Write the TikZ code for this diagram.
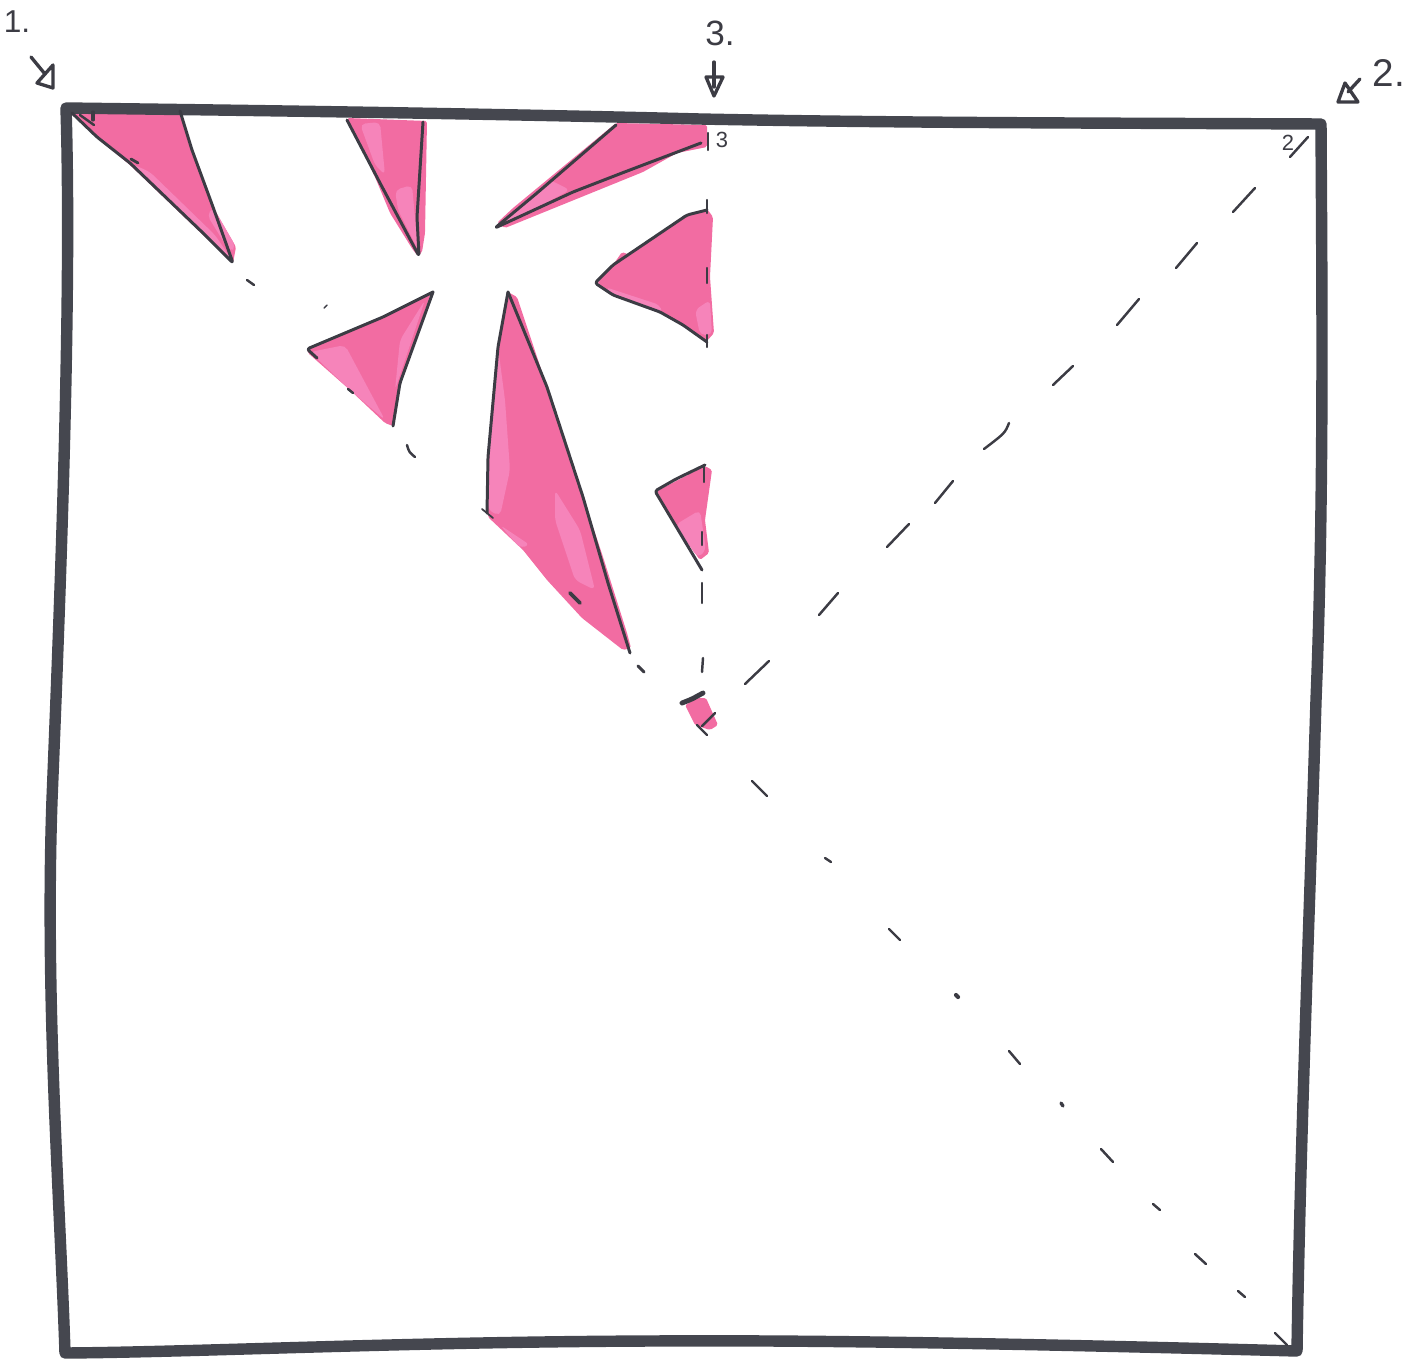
\documentclass[tikz,border=0pt]{standalone}
\usepackage{fontspec}
\setmainfont{Liberation Sans}
\definecolor{ink}{HTML}{45474F}
\definecolor{pen}{HTML}{3C3C44}
\definecolor{marker}{HTML}{F26CA2}
\definecolor{markerlight}{HTML}{F684BA}
\tikzset{
  frame/.style={draw=ink,line width=6.5pt,line join=round,line cap=round},
  fillshape/.style={fill=marker,draw=none,rounded corners=1pt},
  lightshape/.style={fill=markerlight,draw=none,rounded corners=3pt},
  outline/.style={draw=pen,line width=1.7pt,line cap=round,line join=round,rounded corners=1.5pt},
  dashmark/.style={draw=pen,line width=1.4pt,line cap=round},
  bigtxt/.style={text=pen,inner sep=0pt},
  smalltxt/.style={text=pen,font=\fontsize{12.5pt}{15pt}\selectfont,inner sep=0pt},
  tip/.style={draw=pen,line width=1.9pt,line join=round,line cap=round}
}
\begin{document}
\begin{tikzpicture}[x=0.02cm,y=-0.02cm]
\useasboundingbox (0,0) rectangle (1423,1359);
% fills
\fill[fillshape] (72,111) -- (181,110) -- (192,150) -- (213,207) -- (236,247) -- (233,263) -- (203,235) -- (130,165) -- (97,138) -- cycle;
\fill[lightshape] (130,163) -- (150,172) -- (215,235) -- (232,260) -- (203,233) -- cycle;
\fill[lightshape] (213,207) -- (236,247) -- (230,252) -- (207,215) -- cycle;
\fill[fillshape] (347,118) -- (427,121) -- (425,233) -- (422,252) -- (418,256) -- (413,250) -- (390,213) -- (375,177) -- cycle;
\fill[lightshape] (360,124) -- (380,122) -- (385,175) -- (375,165) -- cycle;
\fill[lightshape] (395,190) -- (412,185) -- (418,250) -- (398,210) -- cycle;
\fill[fillshape] (616,123) -- (707,125) -- (707,147) -- (677,153) -- (643,172) -- (505,228) -- (497,223) -- (513,208) -- cycle;
\fill[lightshape] (497,225) -- (550,180) -- (570,190) -- (505,225) -- cycle;
\fill[fillshape] (707,209) -- (713,217) -- (710,277) -- (714,333) -- (706,342) -- (683,325) -- (660,312) -- (613,295) -- (597,283) -- (613,265) -- (622,252) -- (630,255) -- (687,215) -- cycle;
\fill[lightshape] (605,287) -- (660,305) -- (662,313) -- (613,296) -- cycle;
\fill[lightshape] (695,310) -- (710,300) -- (712,335) -- (700,335) -- cycle;
\fill[fillshape] (431,293) -- (400,383) -- (393,426) -- (385,423) -- (350,390) -- (308,353) -- (307,348) -- (383,317) -- cycle;
\fill[lightshape] (310,352) -- (345,345) -- (385,420) -- (350,390) -- cycle;
\fill[lightshape] (400,340) -- (425,300) -- (395,390) -- cycle;
\fill[fillshape] (508,292) -- (517,297) -- (547,387) -- (583,497) -- (603,557) -- (627,633) -- (631,648) -- (623,650) -- (582,618) -- (547,580) -- (523,550) -- (488,517) -- (487,457) -- (498,347) -- cycle;
\fill[lightshape] (498,347) -- (505,400) -- (510,470) -- (500,516) -- (488,510) -- (490,440) -- cycle;
\fill[lightshape] (555,490) -- (580,530) -- (595,590) -- (575,580) -- (555,520) -- cycle;
\fill[lightshape] (500,525) -- (530,545) -- (520,548) -- cycle;
\fill[fillshape] (705,466) -- (712,470) -- (705,520) -- (709,553) -- (700,560) -- (677,528) -- (657,491) -- cycle;
\fill[lightshape] (675,525) -- (700,510) -- (706,550) -- (698,558) -- cycle;
\fill[fillshape] (685,705) -- (698,698) -- (706,698) -- (718,725) -- (710,730) -- (695,725) -- cycle;
% frame
\draw[frame] (66,108) .. controls (300,111) and (500,114) .. (700,119)
  .. controls (900,123) and (1100,123) .. (1321,124)
  .. controls (1322,300) and (1324,500) .. (1316,700)
  .. controls (1310,900) and (1300,1150) .. (1297,1351)
  .. controls (1000,1343) and (800,1340) .. (650,1341)
  .. controls (400,1342) and (200,1352) .. (65,1353)
  .. controls (60,1200) and (45,1000) .. (52,800)
  .. controls (60,600) and (72,300) .. (66,108) -- cycle;
% triangle outlines
\draw[outline] (72,113) -- (97,137) -- (130,163) -- (203,233) -- (233,263) -- (213,207) -- (192,150) -- (180,111);
\draw[outline] (347,120) -- (380,183) -- (419,256) -- (417,217) -- (423,122);
\draw[outline] (616,125) -- (537,193) -- (495,228) -- (573,192) -- (622,173) -- (701,143);
\draw[outline] (707,210) -- (687,215) -- (613,265) -- (595,283) -- (613,295) -- (660,312) -- (683,325) -- (707,342);
\draw[outline] (433,292) -- (383,317) -- (307,349) -- (317,358);
\draw[outline] (433,292) -- (400,383) -- (393,426);
\draw[outline] (508,292) -- (498,347) -- (488,457) -- (487,513);
\draw[outline] (508,292) -- (547,387) -- (583,497) -- (608,583) -- (630,653);
\draw[outline] (705,465) -- (676,479) -- (655,491) -- (677,528) -- (702,570);
\draw[outline,line width=2.8pt] (682,703) -- (692,699) -- (703,693);
% dashes toward the lower right corner
\draw[dashmark] (247,280) -- (254,285);
\draw[dashmark,line width=.8pt] (324,308) -- (327,305);
\draw[dashmark] (348,389) -- (353,393);
\draw[dashmark] (407,445) .. controls (409,452) .. (415,457);
\draw[dashmark,line width=1pt] (482,509) -- (493,518);
\draw[dashmark,line width=2.2pt] (570,593) -- (580,603);
\draw[dashmark,line width=1.8pt] (638,666) -- (644,672);
\draw[dashmark] (697,725) -- (707,735);
\draw[dashmark] (715,713) -- (702,726);
\draw[dashmark] (752,781) -- (767,796);
\draw[dashmark] (825,858) -- (831,862);
\draw[dashmark] (889,929) -- (900,940);
\draw[line width=2.4pt,pen,line cap=round] (956,995) -- (958,997);
\draw[dashmark] (1009,1051) -- (1020,1064);
\draw[line width=1.9pt,pen,line cap=round] (1061,1103) -- (1063,1106);
\draw[dashmark] (1101,1149) -- (1113,1162);
\draw[dashmark] (1153,1204) -- (1160,1210);
\draw[dashmark] (1195,1254) -- (1206,1264);
\draw[dashmark] (1238,1291) -- (1245,1297);
\draw[dashmark] (1275,1333) -- (1287,1345);
% dashes on the vertical
\draw[dashmark] (708,133) -- (708,150);
\draw[dashmark] (707,200) -- (707,213);
\draw[dashmark] (707,268) -- (707,283);
\draw[dashmark] (707,335) -- (707,347);
\draw[dashmark] (704,467) -- (704,482);
\draw[dashmark] (702,532) -- (702,545);
\draw[dashmark] (702,583) -- (702,603);
\draw[dashmark] (703,658) -- (702,672);
% dashes toward the upper right corner
\draw[dashmark] (1308,137) -- (1290,157);
\draw[dashmark] (1255,188) -- (1233,212);
\draw[dashmark] (1197,243) -- (1176,268);
\draw[dashmark] (1139,299) -- (1117,325);
\draw[dashmark] (1073,366) -- (1053,385);
\draw[dashmark] (1009,423) .. controls (1005,433) .. (984,449);
\draw[dashmark] (953,481) -- (935,503);
\draw[dashmark] (909,524) -- (887,547);
\draw[dashmark] (838,593) -- (819,615);
\draw[dashmark] (769,661) -- (745,684);
% marks in first triangle
\draw[dashmark,line width=1.8pt] (93,112) -- (93,120);
\draw[dashmark] (80,115) -- (94,125);
\draw[dashmark,line width=1.6pt] (131,159) -- (138,163);
% labels
\node[bigtxt,font=\fontsize{18pt}{20pt}\selectfont] (lab1) at (17,22) {1.};
\node[bigtxt,font=\fontsize{22pt}{24pt}\selectfont] (lab2) at (1389,73) {2.};
\node[bigtxt,font=\fontsize{20pt}{22pt}\selectfont] (lab3) at (720,33) {3.};
\node[smalltxt] (small3) at (722,140) {3};
\node[smalltxt] (small2) at (1288,143) {2};
% arrows
\draw[tip] (31,57) -- (45,74);
\draw[tip] (53,65) -- (37,83) -- (53,88) -- cycle;
\draw[tip] (1360,79) -- (1348,92);
\draw[tip] (1345,83) -- (1338,102) -- (1358,102) -- cycle;
\draw[tip] (714,62) -- (714,87);
\draw[tip] (706,77) -- (723,77) -- (714,96) -- cycle;
\end{tikzpicture}
\end{document}
